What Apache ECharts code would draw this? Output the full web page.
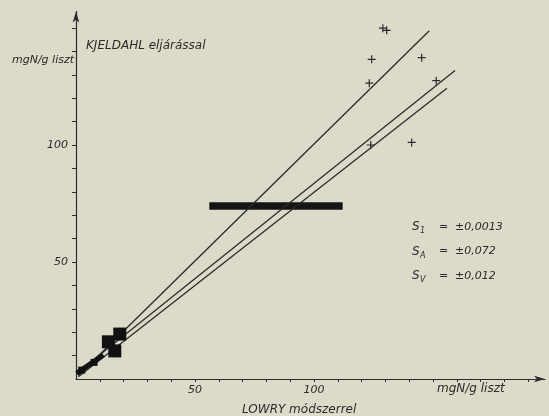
<!DOCTYPE html>
<html>
<head>
<meta charset="utf-8">
<script src="https://cdn.jsdelivr.net/npm/echarts@6/dist/echarts.min.js"></script>
<style>
html,body{margin:0;padding:0;background:#dcdbca;}
#c{width:549px;height:416px;}
</style>
</head>
<body>
<div id="c"></div>
<script>
// ---- data ----
var plusX = [128.9, 130.5, 124.2, 145.2, 123.2, 151.3, 123.8, 141.0];
var plusY = [149.9, 149.0, 136.6, 137.3, 126.4, 127.5, 100.0, 101.1];

var bigSquareX = [18.4, 13.6, 16.3];
var bigSquareY = [19.2, 15.9, 12.0];
var smallSquareX = [7.6, 2.4];
var smallSquareY = [7.1, 3.8];

var line1X = [1, 148.4], line1Y = [1.5, 148.8];
var line2X = [1, 159.2], line2Y = [3.0, 131.8];
var line3X = [1, 155.8], line3Y = [1.0, 124.2];
var thickX = [0.3, 11.5], thickY = [2.4, 10.3];

var barX = [56, 112], barY = [73.9, 73.9];

var xTickValues = [10,20,30,40,50,60,70,80,90,100,110,120,130,140,150,160,170,180,190];
var xLabelValues = [50, 100];
var yTickValues = [10,20,30,40,50,60,70,80,90,100,110,120,130,140,150];
var yLabelValues = [50, 100];

var statSubs = ['1', 'A', 'V'];
var statVals = ['\u00b10,0013', '\u00b10,072', '\u00b10,012'];

function pairs(xs, ys){ return xs.map(function(x,i){ return [x, ys[i]]; }); }

var ink = '#2a2a2a';
var fontFam = '"DejaVu Sans", sans-serif';

var chart = echarts.init(document.getElementById('c'), null, {renderer:'canvas'});

var graphics = [
  {type:'text', style:{text:'KJELDAHL eljárással', x:86, y:46, fill:ink, font:'italic 12px '+fontFam, textAlign:'left', textVerticalAlign:'middle'}},
  {type:'text', style:{text:'mgN/g liszt', x:74, y:60, fill:ink, font:'italic 11px '+fontFam, textAlign:'right', textVerticalAlign:'middle'}},
  {type:'text', style:{text:'mgN/g liszt', x:437, y:389, fill:ink, font:'italic 12px '+fontFam, textAlign:'left', textVerticalAlign:'middle'}},
  {type:'text', style:{text:'LOWRY módszerrel', x:242, y:410, fill:ink, font:'italic 12px '+fontFam, textAlign:'left', textVerticalAlign:'middle'}}
];
statSubs.forEach(function(s, i){
  var yy = 227 + i*24.5;
  graphics.push({type:'text', style:{text:'S', x:412, y:yy, fill:ink, font:'italic 12px '+fontFam, textAlign:'left', textVerticalAlign:'middle'}});
  graphics.push({type:'text', style:{text:s, x:420, y:yy+4, fill:ink, font:'italic 8px '+fontFam, textAlign:'left', textVerticalAlign:'middle'}});
  graphics.push({type:'text', style:{text:'=', x:439, y:yy, fill:ink, font:'11px '+fontFam, textAlign:'left', textVerticalAlign:'middle'}});
  graphics.push({type:'text', style:{text:statVals[i], x:455, y:yy, fill:ink, font:'italic 11px '+fontFam, textAlign:'left', textVerticalAlign:'middle'}});
});

var lineStyleThin = {color:ink, width:1.3};

chart.setOption({
  backgroundColor:'#dcdbca',
  animation:false,
  grid:{left:76, right:4, top:11.6, bottom:37, containLabel:false},
  xAxis:{
    type:'value', min:0, max:197,
    splitLine:{show:false},
    axisLine:{show:true, onZero:false, symbol:['none','arrow'], symbolSize:[5,11], lineStyle:{color:ink, width:1.2}},
    axisTick:{show:true, length:3, customValues:xTickValues, lineStyle:{color:ink}},
    axisLabel:{show:true, customValues:xLabelValues, margin:6, color:ink, fontFamily:fontFam, fontStyle:'italic', fontSize:11}
  },
  yAxis:{
    type:'value', min:0, max:157,
    splitLine:{show:false},
    axisLine:{show:true, onZero:false, symbol:['none','arrow'], symbolSize:[5,11], lineStyle:{color:ink, width:1.2}},
    axisTick:{show:true, length:4, customValues:yTickValues, lineStyle:{color:ink}},
    axisLabel:{show:true, customValues:yLabelValues, margin:8, color:ink, fontFamily:fontFam, fontStyle:'italic', fontSize:11}
  },
  graphic:graphics,
  series:[
    {type:'line', data:pairs(line1X, line1Y), symbol:'none', lineStyle:lineStyleThin, z:3},
    {type:'line', data:pairs(line2X, line2Y), symbol:'none', lineStyle:lineStyleThin, z:3},
    {type:'line', data:pairs(line3X, line3Y), symbol:'none', lineStyle:lineStyleThin, z:3},
    {type:'line', data:pairs(thickX, thickY), symbol:'none', lineStyle:{color:'#111', width:5}, z:4},
    {type:'line', data:pairs(barX, barY), symbol:'none', lineStyle:{color:'#151515', width:7.5, cap:'butt'}, z:2},
    {type:'scatter', data:pairs(bigSquareX, bigSquareY), symbol:'rect', symbolSize:13, itemStyle:{color:'#111', opacity:1}, z:4},
    {type:'scatter', data:pairs(smallSquareX, smallSquareY), symbol:'rect', symbolSize:7, itemStyle:{color:'#111', opacity:1}, z:4},
    {type:'scatter', data:pairs(plusX, plusY), symbol:'path://M4,0 L4,8 M0,4 L8,4', symbolSize:8,
      itemStyle:{color:'none', borderColor:ink, borderWidth:1.2, opacity:1}, z:5}
  ]
});
</script>
</body>
</html>
